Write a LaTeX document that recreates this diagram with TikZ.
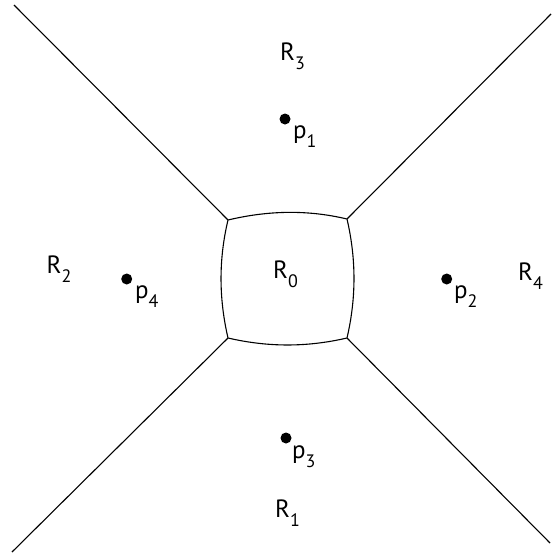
\documentclass[tikz,border=0pt]{standalone}
\usepackage{fontspec}
\setmainfont{PT Sans}
\newcommand{\mysub}[1]{\raisebox{-0.38em}{\fontsize{18}{18}\selectfont #1}}
\begin{document}
\begin{tikzpicture}[x=1pt,y=-1pt,
  edge/.style={line width=1.1pt,black},
  dot/.style={circle,fill=black,inner sep=0pt,minimum size=11pt},
  lbl/.style={anchor=base west,inner sep=0pt,font=\fontsize{25}{25}\selectfont}]
\useasboundingbox (0,0) rectangle (552,554);
% corners of central region
\coordinate (A) at (228,220);
\coordinate (B) at (347,219);
\coordinate (C) at (347,338);
\coordinate (D) at (228,338);
% far ends
\coordinate (TL) at (14,5);
\coordinate (TR) at (551,14);
\coordinate (BL) at (12,552);
\coordinate (BR) at (550,543);
\draw[edge] (A) .. controls (268,210.5) and (307,209.5) .. (B)
  .. controls (356.3,259) and (356.3,298) .. (C)
  .. controls (307,347.3) and (268,347.3) .. (D)
  .. controls (218.7,298) and (218.7,259) .. (A) -- cycle;
\draw[edge] (TL) -- (A);
\draw[edge] (TR) -- (B);
\draw[edge] (BL) -- (D);
\draw[edge] (BR) -- (C);
% sites
\node[dot] (p1) at (285,119) {};
\node[dot] (p2) at (446.7,279) {};
\node[dot] (p3) at (286,438) {};
\node[dot] (p4) at (126.7,279) {};
\node[lbl] (lp1) at (293,138) {p\mysub{1}};
\node[lbl] (lp2) at (454,298) {p\mysub{2}};
\node[lbl] (lp3) at (292,458) {p\mysub{3}};
\node[lbl] (lp4) at (135,298) {p\mysub{4}};
% regions
\node[lbl] (R0) at (273,278) {R\mysub{0}};
\node[lbl] (R1) at (275,517) {R\mysub{1}};
\node[lbl] (R2) at (46.5,273) {R\mysub{2}};
\node[lbl] (R3) at (280,60) {R\mysub{3}};
\node[lbl] (R4) at (518,280) {R\mysub{4}};
\end{tikzpicture}
\end{document}
